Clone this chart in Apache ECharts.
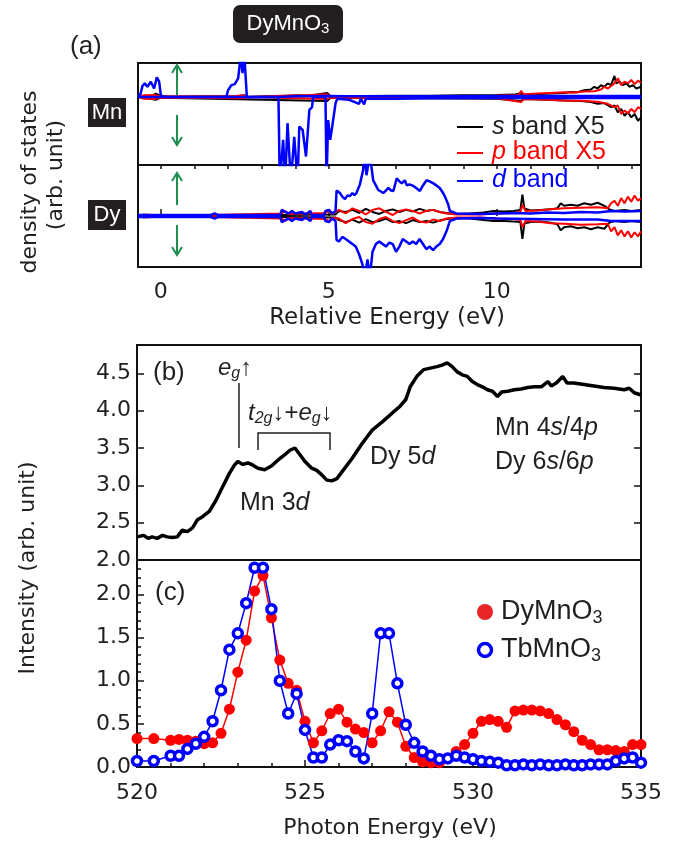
<!DOCTYPE html>
<html>
<head>
<meta charset="utf-8">
<script src="https://cdn.jsdelivr.net/npm/echarts@6/dist/echarts.min.js"></script>
<style>
  body { margin: 0; background: #fff; }
  #chart { width: 679px; height: 843px; }
</style>
</head>
<body>
<div id="chart"></div>
<script>
// ---- panel (a): DOS, [energy eV, value], spin up > 0, spin down < 0 ----
const aMajorTicks = [0, 5, 10];
const aMinorTicks = [0, 1, 2, 3, 4, 5, 6, 7, 8, 9, 10, 11, 12, 13, 14];

const mnDUp = [[-0.68,0],[-0.6,0.1],[-0.55,0.32],[-0.48,0.4],[-0.4,0.3],[-0.3,0.45],[-0.2,0.25],[-0.12,0.58],[-0.05,0.45],[0.0,0.05],[0.1,0],
  [1.95,0],[2.0,0.2],[2.1,0.35],[2.2,0.38],[2.3,0.55],[2.34,0.89],[2.38,1.3],[2.43,0.7],[2.48,1.3],[2.53,1.3],[2.56,0],
  [3.5,0],[4.0,0.02],[5.0,0.03],[5.5,0.02],[8,0.02],[11,0.03],[14.29,0.03]];
const mnDDn = [[-0.68,0],[3.5,0],[3.54,-2.5],[3.59,-2.5],[3.64,-1.26],[3.7,-2.5],[3.77,-0.77],[3.87,-2.5],[3.97,-1.17],[4.07,-2.5],
  [4.12,-0.87],[4.22,-0.97],[4.32,-1.75],[4.42,-0.38],[4.5,-0.3],[4.53,0],[4.9,0],[4.93,-2.5],[4.98,-0.68],[5.04,-1.26],
  [5.1,-0.87],[5.2,-0.18],[5.25,-0.05],[5.6,-0.08],[5.9,-0.2],[5.95,-0.05],[6.05,-0.22],[6.1,-0.05],[7,-0.05],[8,-0.04],
  [10,-0.03],[14.29,-0.03]];
const mnSUp = [[-0.68,0],[-0.3,0.02],[-0.15,0.1],[0,0.03],[0.3,0],[2.3,0.02],[2.5,0.05],[2.6,0],[3.6,0.03],[4.1,0.05],[4.4,0.04],
  [4.95,0.12],[5.05,0.03],[6,0.03],[7,0.04],[8,0.04],[9,0.05],[10,0.06],[10.5,0.07],[10.7,0.1],[10.8,0.07],[11.2,0.08],
  [11.6,0.1],[12,0.12],[12.2,0.15],[12.4,0.14],[12.6,0.2],[12.8,0.22],[12.9,0.3],[13.0,0.25],[13.1,0.35],[13.2,0.3],
  [13.3,0.4],[13.4,0.35],[13.5,0.62],[13.55,0.4],[13.65,0.45],[13.75,0.35],[13.85,0.4],[13.95,0.3],[14.05,0.35],
  [14.15,0.25],[14.29,0.3]];
const mnSDn = [[-0.68,0],[-0.15,-0.08],[0,-0.02],[4.95,-0.12],[5.05,-0.02],[6,-0.03],[8,-0.04],[10,-0.05],[10.7,-0.12],
  [10.8,-0.06],[11.5,-0.08],[12,-0.1],[12.5,-0.12],[12.8,-0.15],[13.0,-0.2],[13.2,-0.18],[13.4,-0.3],[13.5,-0.25],
  [13.6,-0.45],[13.7,-0.35],[13.8,-0.55],[13.9,-0.45],[14.0,-0.6],[14.1,-0.5],[14.2,-0.7],[14.29,-0.6]];
const mnPUp = [[-0.68,0],[-0.5,0.05],[-0.2,0.06],[0,0.02],[2.2,0.02],[2.4,0.05],[2.5,0.04],[2.6,0],[3.6,0.04],[4.3,0.05],
  [4.95,0.08],[5.05,0.02],[8,0.03],[10,0.04],[10.65,0.06],[10.72,0.18],[10.8,0.08],[11.2,0.1],[11.6,0.12],[12,0.14],
  [12.3,0.13],[12.6,0.16],[12.9,0.17],[13.1,0.22],[13.2,0.3],[13.3,0.25],[13.5,0.4],[13.6,0.55],[13.7,0.35],[13.8,0.45],
  [13.9,0.4],[14.0,0.5],[14.1,0.38],[14.2,0.48],[14.29,0.42]];
const mnPDn = [[-0.68,0],[-0.5,-0.05],[-0.2,-0.06],[0,-0.02],[2.4,-0.04],[2.6,0],[4.95,-0.06],[5.05,-0.02],[10,-0.04],
  [10.72,-0.15],[10.8,-0.06],[11.5,-0.08],[12,-0.1],[12.5,-0.11],[13,-0.14],[13.3,-0.2],[13.5,-0.3],[13.6,-0.25],
  [13.7,-0.5],[13.8,-0.4],[13.9,-0.48],[14.0,-0.35],[14.1,-0.45],[14.2,-0.3],[14.29,-0.35]];

const dyDUp = [[-0.68,0.02],[1.5,0.02],[1.6,0.05],[1.7,0.02],[3.55,0.02],[3.6,0.12],[3.7,0.08],[3.8,0.05],[3.9,0.1],[4.0,0.05],
  [4.2,0.08],[4.3,0.03],[4.45,0.1],[4.5,0.02],[4.85,0.02],[4.9,0.1],[5.0,0.12],[5.1,0.05],[5.2,0.1],[5.23,0.5],[5.33,0.45],
  [5.4,0.38],[5.48,0.33],[5.55,0.4],[5.63,0.39],[5.7,0.45],[5.76,0.41],[5.82,0.45],[5.92,0.61],[6.02,0.9],[6.07,1.2],
  [6.12,0.8],[6.17,0.8],[6.22,1.2],[6.32,0.7],[6.4,0.6],[6.47,0.51],[6.55,0.48],[6.62,0.45],[6.7,0.5],[6.77,0.55],
  [6.85,0.5],[6.92,0.49],[7.02,0.74],[7.1,0.68],[7.17,0.64],[7.26,0.7],[7.32,0.6],[7.4,0.62],[7.51,0.59],[7.6,0.55],
  [7.71,0.49],[7.8,0.6],[7.91,0.7],[8.0,0.68],[8.11,0.64],[8.2,0.6],[8.3,0.55],[8.4,0.45],[8.45,0.39],[8.55,0.23],
  [8.6,0.1],[8.8,0.05],[9.5,0.04],[10,0.05],[10.5,0.06],[11,0.05],[11.5,0.07],[12,0.06],[12.5,0.08],[13,0.07],
  [13.4,0.1],[13.8,0.09],[14.29,0.1]];
const dyDDn = [[-0.68,-0.02],[1.5,-0.02],[1.6,-0.05],[1.7,-0.02],[3.55,-0.02],[3.6,-0.12],[3.7,-0.08],[3.8,-0.05],[3.9,-0.1],
  [4.0,-0.05],[4.2,-0.08],[4.3,-0.03],[4.45,-0.1],[4.5,-0.02],[4.85,-0.02],[4.9,-0.1],[5.0,-0.12],[5.1,-0.05],[5.2,-0.1],
  [5.23,-0.47],[5.3,-0.5],[5.4,-0.41],[5.5,-0.45],[5.6,-0.5],[5.7,-0.55],[5.8,-0.6],[5.9,-0.75],[6.0,-0.95],[6.07,-1.2],
  [6.15,-0.85],[6.22,-1.2],[6.3,-0.7],[6.4,-0.55],[6.5,-0.5],[6.6,-0.55],[6.7,-0.6],[6.8,-0.52],[6.9,-0.55],[7.0,-0.7],
  [7.1,-0.6],[7.2,-0.45],[7.3,-0.5],[7.4,-0.55],[7.5,-0.5],[7.6,-0.55],[7.7,-0.45],[7.8,-0.55],[7.9,-0.65],[8.0,-0.6],
  [8.1,-0.67],[8.2,-0.6],[8.3,-0.55],[8.4,-0.45],[8.5,-0.3],[8.6,-0.1],[8.8,-0.05],[9.5,-0.04],[10,-0.05],[11,-0.06],
  [12,-0.07],[13,-0.07],[13.4,-0.1],[14.29,-0.1]];
const dySUp = [[-0.68,0],[3.6,0.02],[5.2,0.03],[5.3,0.1],[5.5,0.08],[5.7,0.12],[5.9,0.06],[6.1,0.14],[6.3,0.08],[6.5,0.04],
  [6.7,0.1],[6.9,0.13],[7.1,0.08],[7.3,0.12],[7.5,0.09],[7.7,0.14],[7.9,0.1],[8.1,0.12],[8.3,0.08],[8.5,0.06],[8.8,0.04],
  [9.2,0.05],[9.6,0.07],[9.9,0.1],[10.2,0.09],[10.5,0.1],[10.7,0.12],[10.76,0.42],[10.82,0.15],[11.0,0.11],[11.3,0.12],
  [11.6,0.13],[11.8,0.15],[11.9,0.25],[12.0,0.2],[12.2,0.22],[12.4,0.2],[12.6,0.25],[12.8,0.22],[13.0,0.26],[13.2,0.2],
  [13.35,0.13],[13.5,0.1],[13.8,0.12],[14.0,0.1],[14.29,0.12]];
const dySDn = [[-0.68,0],[3.6,-0.02],[5.2,-0.03],[5.3,-0.08],[5.5,-0.12],[5.7,-0.07],[5.9,-0.13],[6.1,-0.06],[6.3,-0.12],
  [6.5,-0.1],[6.7,-0.05],[6.9,-0.12],[7.1,-0.1],[7.3,-0.14],[7.5,-0.08],[7.7,-0.12],[7.9,-0.1],[8.1,-0.13],[8.3,-0.09],
  [8.5,-0.06],[8.8,-0.04],[9.2,-0.05],[9.6,-0.08],[9.9,-0.1],[10.2,-0.1],[10.5,-0.11],[10.7,-0.12],[10.76,-0.45],
  [10.82,-0.15],[11.0,-0.12],[11.3,-0.11],[11.6,-0.13],[11.8,-0.16],[11.9,-0.28],[12.0,-0.22],[12.2,-0.2],[12.4,-0.24],
  [12.6,-0.22],[12.8,-0.26],[13.0,-0.22],[13.2,-0.25],[13.35,-0.13],[13.5,-0.1],[13.8,-0.12],[14.0,-0.1],[14.29,-0.12]];
const dyPUp = [[-0.68,0],[-0.5,0.03],[-0.3,0.02],[0.0,0],[3.6,0.05],[3.7,0.1],[3.8,0.04],[4.9,0.06],[5.0,0.1],[5.1,0.04],
  [5.3,0.12],[5.5,0.05],[5.7,0.15],[5.9,0.1],[6.1,0.03],[6.3,0.12],[6.5,0.15],[6.7,0.08],[6.9,0.02],[7.1,0.1],[7.3,0.13],
  [7.5,0.1],[7.7,0.05],[7.9,0.1],[8.1,0.12],[8.3,0.08],[8.5,0.05],[8.8,0.03],[9.5,0.03],[10,0.05],[10.5,0.06],[10.7,0.08],
  [10.76,0.22],[10.85,0.1],[11.2,0.11],[11.6,0.13],[12,0.15],[12.5,0.16],[13,0.17],[13.3,0.15],[13.4,0.25],[13.5,0.3],
  [13.6,0.2],[13.7,0.35],[13.8,0.25],[13.9,0.38],[14.0,0.28],[14.1,0.4],[14.2,0.3],[14.29,0.35]];
const dyPDn = [[-0.68,0],[-0.5,-0.03],[-0.3,-0.02],[0.0,0],[3.6,-0.05],[3.7,-0.1],[3.8,-0.04],[4.9,-0.06],[5.0,-0.1],
  [5.1,-0.04],[5.3,-0.05],[5.5,-0.14],[5.7,-0.06],[5.9,-0.02],[6.1,-0.12],[6.3,-0.15],[6.5,-0.06],[6.7,-0.02],[6.9,-0.1],
  [7.1,-0.14],[7.3,-0.08],[7.5,-0.03],[7.7,-0.11],[7.9,-0.13],[8.1,-0.07],[8.3,-0.1],[8.5,-0.05],[8.8,-0.03],[9.5,-0.03],
  [10,-0.05],[10.5,-0.06],[10.7,-0.08],[10.76,-0.22],[10.85,-0.1],[11.2,-0.11],[11.6,-0.14],[12,-0.15],[12.5,-0.17],
  [13,-0.16],[13.3,-0.15],[13.4,-0.3],[13.5,-0.22],[13.6,-0.38],[13.7,-0.28],[13.8,-0.4],[13.9,-0.3],[14.0,-0.42],
  [14.1,-0.32],[14.2,-0.4],[14.29,-0.3]];

// ---- panel (b): absorption intensity ----
const bEnergy = [520.0,520.2,520.33,520.45,520.6,520.76,520.9,521.05,521.2,521.35,521.5,521.65,521.8,521.95,522.15,522.35,
  522.55,522.75,522.9,523.0,523.15,523.3,523.45,523.6,523.8,524.0,524.2,524.4,524.55,524.7,524.85,525.0,525.2,525.35,
  525.5,525.65,525.8,525.95,526.15,526.4,526.7,527.0,527.3,527.6,527.83,528.0,528.13,528.33,528.53,528.73,528.93,529.08,
  529.23,529.38,529.53,529.68,529.83,529.98,530.13,530.28,530.43,530.58,530.73,530.85,531.03,531.23,531.43,531.63,531.83,
  532.03,532.23,532.33,532.48,532.67,532.8,533.0,533.3,533.6,533.9,534.2,534.5,534.65,534.8,535.0];
const bIntensity = [2.31,2.33,2.29,2.31,2.29,2.33,2.31,2.30,2.31,2.40,2.38,2.43,2.54,2.58,2.65,2.80,2.98,3.16,3.27,3.32,
  3.28,3.30,3.27,3.23,3.21,3.26,3.34,3.41,3.47,3.50,3.41,3.32,3.23,3.20,3.14,3.07,3.06,3.09,3.21,3.36,3.56,3.74,3.85,3.97,
  4.06,4.15,4.32,4.46,4.55,4.57,4.59,4.61,4.64,4.59,4.52,4.48,4.46,4.39,4.35,4.32,4.28,4.26,4.19,4.25,4.26,4.28,4.29,4.31,
  4.32,4.32,4.39,4.33,4.37,4.46,4.37,4.37,4.35,4.33,4.31,4.30,4.28,4.30,4.24,4.21];

// ---- panel (c): resonant intensity ----
const cEnergy = [520,520.5,521,521.25,521.5,521.75,522,522.25,522.5,522.75,523,523.25,523.5,523.75,524,524.25,524.5,524.75,
  525,525.25,525.5,525.75,526,526.25,526.5,526.75,527,527.25,527.5,527.75,528,528.25,528.5,528.75,529,529.25,529.5,529.75,
  530,530.25,530.5,530.75,531,531.25,531.5,531.75,532,532.25,532.5,532.75,533,533.25,533.5,533.75,534,534.25,534.5,534.75,535];
const dyValues = [0.33,0.33,0.31,0.32,0.31,0.30,0.27,0.28,0.39,0.67,1.10,1.47,2.04,2.22,1.73,1.24,0.97,0.89,0.53,0.28,
  0.42,0.62,0.67,0.52,0.44,0.40,0.28,0.42,0.64,0.52,0.24,0.11,0.06,0.05,0.05,0.10,0.18,0.26,0.39,0.53,
  0.55,0.53,0.46,0.65,0.66,0.66,0.65,0.62,0.55,0.49,0.41,0.31,0.26,0.20,0.20,0.19,0.18,0.26,0.26];
const tbValues = [0.07,0.07,0.13,0.13,0.21,0.27,0.35,0.53,0.89,1.36,1.55,1.90,2.31,2.31,1.83,1.00,0.62,0.85,0.43,0.11,
  0.11,0.26,0.31,0.30,0.18,0.10,0.62,1.55,1.55,0.97,0.49,0.28,0.18,0.13,0.09,0.10,0.13,0.11,0.09,0.07,
  0.06,0.05,0.02,0.02,0.03,0.02,0.03,0.02,0.02,0.03,0.02,0.02,0.03,0.03,0.03,0.07,0.10,0.11,0.05];

const FONT = '"Liberation Sans", Arial, sans-serif';
const TFONT = '"DejaVu Sans", Verdana, sans-serif';
const INK = '#231f20';
const GREEN = '#1f8f4f';

function zip(xs, ys) { return xs.map((x, i) => [x, ys[i]]); }

function dosLine(data, color, xi, yi, w) {
  return { type: 'line', data: data, xAxisIndex: xi, yAxisIndex: yi, showSymbol: false, symbol: 'none',
    lineStyle: { color: color, width: w }, z: 2, silent: true };
}

function arrow(x, y1, y2) {
  // y2 is the tip
  const d = y2 < y1 ? 8 : -8;
  return [
    { type: 'line', shape: { x1: x, y1: y1, x2: x, y2: y2 }, style: { stroke: GREEN, lineWidth: 2 } },
    { type: 'polyline', shape: { points: [[x - 5, y2 + d], [x, y2], [x + 5, y2 + d]] }, style: { stroke: GREEN, lineWidth: 2, fill: null } }
  ];
}

function txt(x, y, text, size, opts) {
  return { type: 'text', x: x, y: y, rotation: (opts && opts.rot) || 0, style: Object.assign({
    text: text, fontSize: size, fontFamily: FONT, fill: INK, textAlign: 'left', textVerticalAlign: 'middle'
  }, opts || {}) };
}

// rich styles for graphic text
const subRich = (size, color) => ({
  n: { fontSize: size, fontFamily: FONT, fill: color },
  i: { fontSize: size, fontFamily: FONT, fill: color, fontStyle: 'italic' },
  s: { fontSize: Math.round(size * 0.68), fontFamily: FONT, fill: color, verticalAlign: 'bottom', padding: [size * 0.45, 0, 0, 0] },
  si: { fontSize: Math.round(size * 0.68), fontFamily: FONT, fill: color, fontStyle: 'italic', verticalAlign: 'bottom', padding: [size * 0.45, 0, 0, 0] }
});

const graphics = [
  { type: 'rect', shape: { x: 233, y: 5, width: 110, height: 38, r: 7 }, style: { fill: INK } },
  txt(288, 24, '{n|DyMnO}{s|3}', 22, { textAlign: 'center', fill: '#fff', rich: subRich(22, '#fff') }),
  txt(70, 47, '(a)', 26),
  { type: 'rect', shape: { x: 88, y: 98, width: 38, height: 29 }, style: { fill: INK } },
  txt(107, 113, 'Mn', 22, { textAlign: 'center', fill: '#fff' }),
  { type: 'rect', shape: { x: 88, y: 200, width: 38, height: 30 }, style: { fill: INK } },
  txt(107, 215, 'Dy', 22, { textAlign: 'center', fill: '#fff' }),
  txt(30, 182, 'density of states', 22, { textAlign: 'center', fontFamily: TFONT, rot: Math.PI / 2 }),
  txt(56, 175, '(arb. unit)', 22, { textAlign: 'center', fontFamily: TFONT, rot: Math.PI / 2 }),
  txt(387, 318, 'Relative Energy (eV)', 23, { textAlign: 'center', fontFamily: TFONT }),
  // legend of panel (a)
  { type: 'line', shape: { x1: 457, y1: 127, x2: 483, y2: 127 }, style: { stroke: '#000', lineWidth: 2 } },
  txt(492, 127, '{i|s}{n| band X5}', 25, { rich: subRich(25, INK) }),
  { type: 'line', shape: { x1: 457, y1: 153, x2: 483, y2: 153 }, style: { stroke: '#ff0000', lineWidth: 2 } },
  txt(492, 152, '{i|p}{n| band X5}', 25, { fill: '#ff0000', rich: subRich(25, '#ff0000') }),
  { type: 'line', shape: { x1: 457, y1: 181, x2: 483, y2: 181 }, style: { stroke: '#0000ff', lineWidth: 2 } },
  txt(492, 180, '{i|d}{n| band}', 25, { fill: '#0000ff', rich: subRich(25, '#0000ff') }),
  // panel (b) annotations
  txt(153, 373, '(b)', 26),
  txt(218, 368, '{i|e}{si|g}{n|↑}', 24, { rich: subRich(24, INK) }),
  { type: 'line', shape: { x1: 239, y1: 383, x2: 239, y2: 448 }, style: { stroke: INK, lineWidth: 1.5 } },
  txt(248, 413, '{i|t}{si|2g}{n|↓+}{i|e}{si|g}{n|↓}', 24, { rich: subRich(24, INK) }),
  { type: 'polyline', shape: { points: [[258, 450], [258, 433], [330, 433], [330, 450]] }, style: { stroke: INK, lineWidth: 1.5, fill: null } },
  txt(240, 503, '{n|Mn 3}{i|d}', 25, { rich: subRich(25, INK) }),
  txt(370, 457, '{n|Dy 5}{i|d}', 25, { rich: subRich(25, INK) }),
  txt(495, 428, '{n|Mn 4}{i|s}{n|/4}{i|p}', 25, { rich: subRich(25, INK) }),
  txt(495, 462, '{n|Dy 6}{i|s}{n|/6}{i|p}', 25, { rich: subRich(25, INK) }),
  txt(155, 593, '(c)', 26),
  txt(28, 568, 'Intensity (arb. unit)', 22, { textAlign: 'center', fontFamily: TFONT, rot: Math.PI / 2 }),
  txt(390, 828, 'Photon Energy (eV)', 22, { textAlign: 'center', fontFamily: TFONT }),
  // legend of panel (c)
  { type: 'circle', shape: { cx: 485, cy: 612, r: 8 }, style: { fill: '#e8262a' } },
  txt(501, 612, '{n|DyMnO}{s|3}', 27, { rich: subRich(27, INK) }),
  { type: 'circle', shape: { cx: 485, cy: 650, r: 6.5 }, style: { fill: '#fff', stroke: '#0000ff', lineWidth: 3.5 } },
  txt(501, 650, '{n|TbMnO}{s|3}', 27, { rich: subRich(27, INK) })
].concat(arrow(177, 95, 65), arrow(177, 115, 145), arrow(177, 205, 173), arrow(177, 225, 255));

const tickLabel = { fontFamily: TFONT, fontSize: 22, color: INK };
const frame = { show: true, borderColor: '#111', borderWidth: 2, backgroundColor: 'transparent' };

const chart = echarts.init(document.getElementById('chart'), null, { renderer: 'canvas' });
chart.setOption({
  animation: false,
  backgroundColor: '#fff',
  grid: [
    Object.assign({ left: 138, top: 63, width: 503, height: 102 }, frame),
    Object.assign({ left: 138, top: 165, width: 503, height: 102 }, frame),
    Object.assign({ left: 137, top: 345, width: 504, height: 215 }, frame),
    Object.assign({ left: 137, top: 560, width: 504, height: 207 }, frame)
  ],
  xAxis: [
    { gridIndex: 0, type: 'value', min: -0.68, max: 14.29, show: false },
    { gridIndex: 1, type: 'value', min: -0.68, max: 14.29, splitLine: { show: false }, axisLine: { show: false },
      axisTick: { inside: true, length: 7, customValues: aMajorTicks, lineStyle: { color: '#111', width: 1.5 } },
      axisLabel: { customValues: aMajorTicks, margin: 14, ...tickLabel } },
    { gridIndex: 1, type: 'value', min: -0.68, max: 14.29, splitLine: { show: false }, axisLine: { show: false },
      axisTick: { inside: true, length: 4, customValues: aMinorTicks, lineStyle: { color: '#111', width: 1.5 } },
      axisLabel: { show: false } },
    { gridIndex: 2, type: 'value', min: 520, max: 535, show: false },
    { gridIndex: 3, type: 'value', min: 520, max: 535, interval: 5, splitLine: { show: false },
      axisLine: { show: false },
      axisTick: { inside: true, length: 7, lineStyle: { color: '#111', width: 1.5 } },
      minorTick: { show: true, splitNumber: 5, length: 4, lineStyle: { color: '#111', width: 1.5 } },
      axisLabel: { margin: 15, ...tickLabel } }
  ],
  yAxis: [
    { gridIndex: 0, type: 'value', min: -2, max: 1, show: false },
    { gridIndex: 1, type: 'value', min: -1, max: 1, show: false },
    { gridIndex: 2, type: 'value', min: 2, max: 4.88, interval: 0.5, splitLine: { show: false },
      axisLine: { show: false },
      axisTick: { inside: true, length: 7, lineStyle: { color: '#111', width: 1.5 } },
      axisLabel: { showMaxLabel: false, margin: 6, formatter: v => v.toFixed(1), ...tickLabel } },
    { gridIndex: 2, type: 'value', position: 'right', min: 2, max: 4.88, interval: 0.5, splitLine: { show: false },
      axisLine: { show: false },
      axisTick: { inside: true, length: 7, lineStyle: { color: '#111', width: 1.5 } },
      axisLabel: { show: false } },
    { gridIndex: 3, type: 'value', min: 0, max: 2.4, interval: 0.5, splitLine: { show: false },
      axisLine: { show: false },
      axisTick: { inside: true, length: 7, lineStyle: { color: '#111', width: 1.5 } },
      minorTick: { show: true, splitNumber: 5, length: 4, lineStyle: { color: '#111', width: 1.5 } },
      axisLabel: { showMaxLabel: false, margin: 6, formatter: v => v.toFixed(1), ...tickLabel } }
  ],
  graphic: graphics,
  series: [
    dosLine(mnSUp, '#000', 0, 0, 2), dosLine(mnSDn, '#000', 0, 0, 2),
    dosLine(mnPUp, '#ff0000', 0, 0, 2), dosLine(mnPDn, '#ff0000', 0, 0, 2),
    dosLine(mnDUp, '#0000ff', 0, 0, 2.5), dosLine(mnDDn, '#0000ff', 0, 0, 2.5),
    dosLine(dySUp, '#000', 1, 1, 2), dosLine(dySDn, '#000', 1, 1, 2),
    dosLine(dyPUp, '#ff0000', 1, 1, 2), dosLine(dyPDn, '#ff0000', 1, 1, 2),
    dosLine(dyDUp, '#0000ff', 1, 1, 2.5), dosLine(dyDDn, '#0000ff', 1, 1, 2.5),
    { type: 'line', data: zip(bEnergy, bIntensity), xAxisIndex: 3, yAxisIndex: 2, showSymbol: false, symbol: 'none',
      lineStyle: { color: '#000', width: 3.5 } },
    { name: 'DyMnO3', type: 'line', data: zip(cEnergy, dyValues), xAxisIndex: 4, yAxisIndex: 4,
      symbol: 'circle', symbolSize: 11, itemStyle: { color: '#ff0000' }, lineStyle: { color: '#ff0000', width: 1.5 } },
    { name: 'TbMnO3', type: 'line', data: zip(cEnergy, tbValues), xAxisIndex: 4, yAxisIndex: 4,
      symbol: 'circle', symbolSize: 9, itemStyle: { color: '#fff', borderColor: '#0000ff', borderWidth: 3.5 },
      lineStyle: { color: '#0000ff', width: 1.5 } }
  ]
});
</script>
</body>
</html>
